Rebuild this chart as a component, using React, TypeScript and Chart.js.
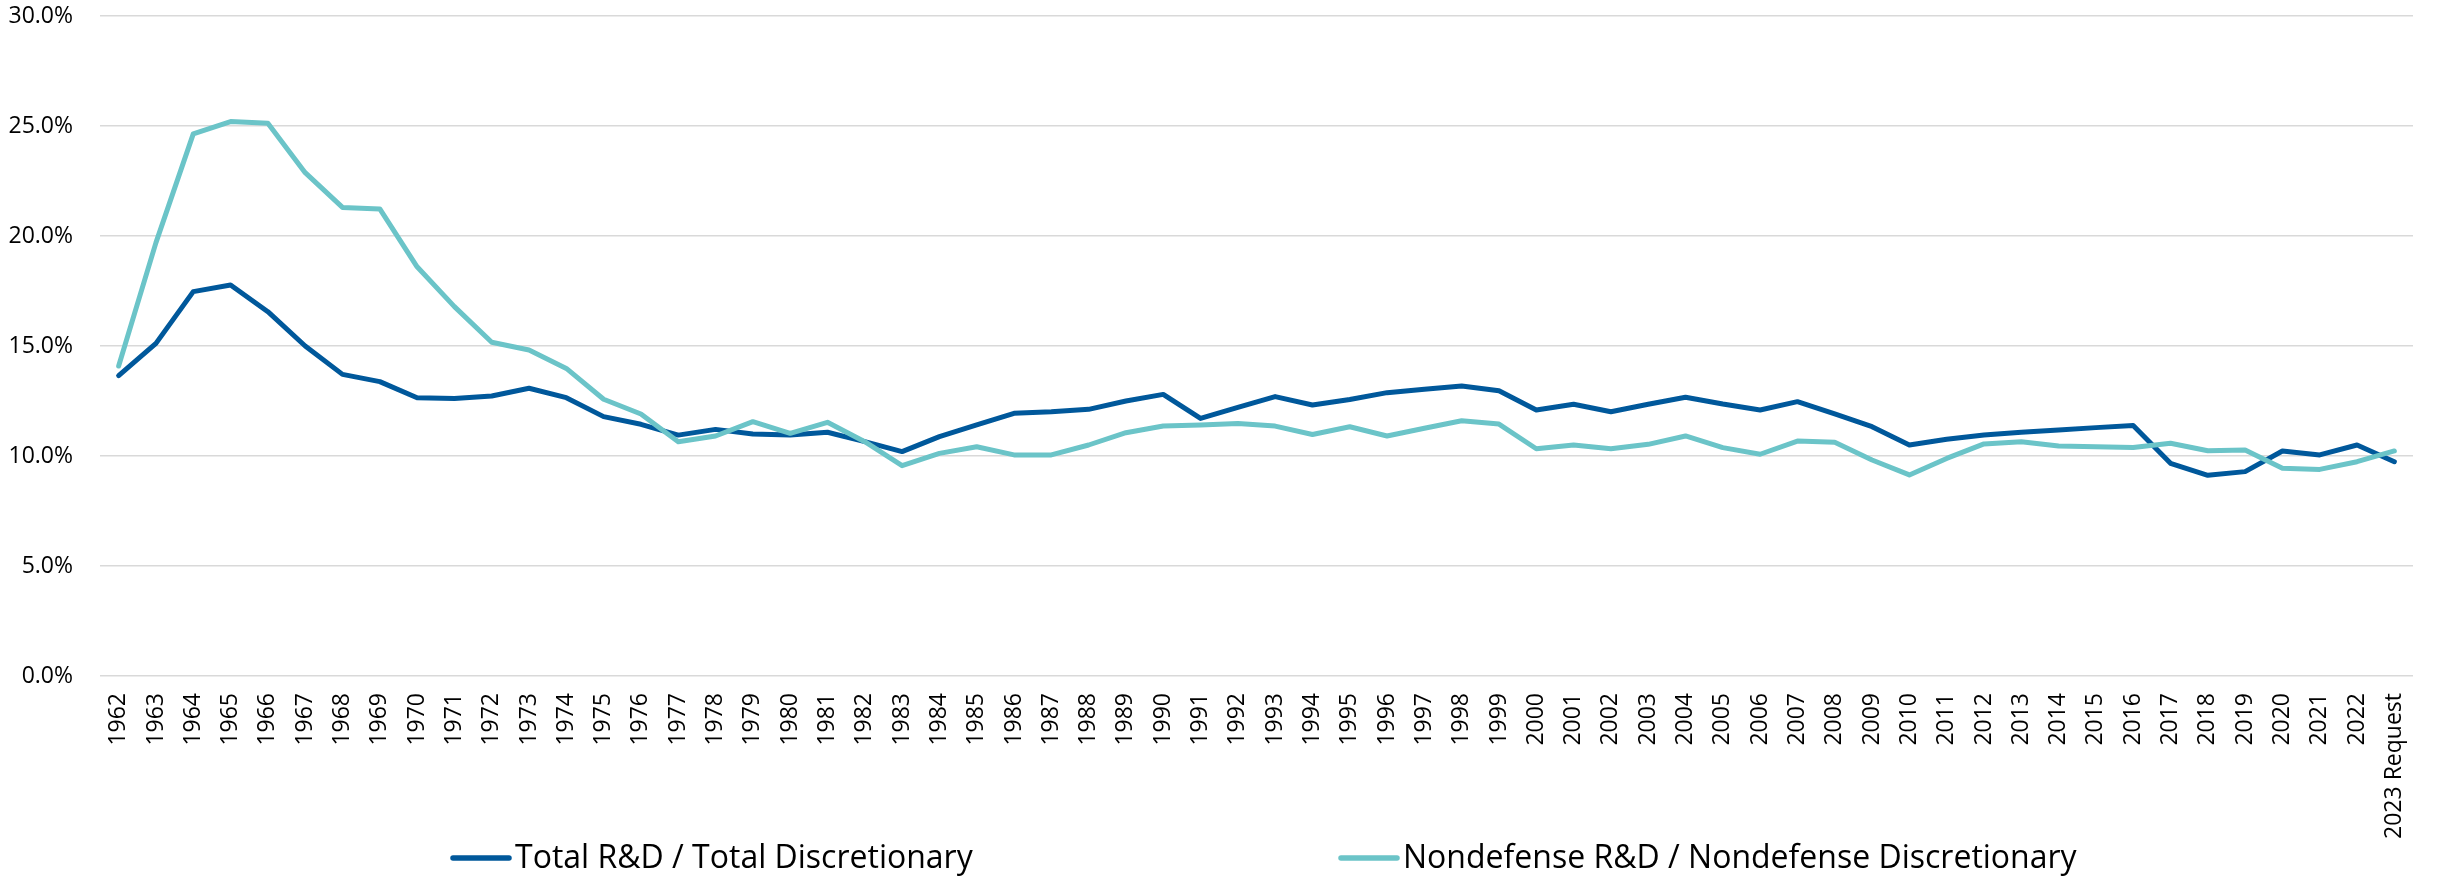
import React, { useEffect, useRef } from 'react';
import { Chart, registerables } from 'chart.js';

Chart.register(...registerables);

const categories: string[] = [
  '1962', '1963', '1964', '1965', '1966', '1967', '1968', '1969', '1970', '1971',
  '1972', '1973', '1974', '1975', '1976', '1977', '1978', '1979', '1980', '1981',
  '1982', '1983', '1984', '1985', '1986', '1987', '1988', '1989', '1990', '1991',
  '1992', '1993', '1994', '1995', '1996', '1997', '1998', '1999', '2000', '2001',
  '2002', '2003', '2004', '2005', '2006', '2007', '2008', '2009', '2010', '2011',
  '2012', '2013', '2014', '2015', '2016', '2017', '2018', '2019', '2020', '2021',
  '2022', '2023 Request',
];

const totalRD: number[] = [
  13.65, 15.12, 17.47, 17.77, 16.56, 15.0, 13.71, 13.38, 12.65, 12.61,
  12.73, 13.08, 12.65, 11.79, 11.44, 10.95, 11.21, 11.0, 10.95, 11.08,
  10.65, 10.2, 10.88, 11.41, 11.94, 12.01, 12.12, 12.5, 12.8, 11.71,
  12.21, 12.7, 12.32, 12.57, 12.88, 13.03, 13.18, 12.97, 12.09, 12.35,
  12.01, 12.35, 12.67, 12.36, 12.09, 12.47, 11.91, 11.33, 10.5, 10.76,
  10.95, 11.08, 11.18, 11.29, 11.39, 9.67, 9.12, 9.29, 10.23, 10.05,
  10.5, 9.74,
];

const nondefenseRD: number[] = [
  14.09, 19.7, 24.64, 25.2, 25.12, 22.88, 21.3, 21.23, 18.6, 16.79,
  15.17, 14.82, 13.98, 12.58, 11.91, 10.65, 10.91, 11.56, 11.03, 11.53,
  10.65, 9.56, 10.12, 10.42, 10.05, 10.05, 10.5, 11.06, 11.36, 11.41,
  11.48, 11.36, 10.98, 11.33, 10.91, 11.26, 11.6, 11.45, 10.33, 10.5,
  10.33, 10.53, 10.91, 10.38, 10.08, 10.68, 10.62, 9.82, 9.14, 9.89,
  10.55, 10.65, 10.45, 10.42, 10.39, 10.58, 10.24, 10.27, 9.44, 9.39,
  9.74, 10.23,
];

const seriesLabels: string[] = [
  'Total R&D / Total Discretionary',
  'Nondefense R&D / Nondefense Discretionary',
];

const DARK = '#00589B';
const LIGHT = '#6BC4C8';
const FONT = '"Open Sans", "Noto Sans", sans-serif';

const legendPlugin = {
  id: 'customLegend',
  afterDraw(chart: any) {
    const ctx = chart.ctx as CanvasRenderingContext2D;
    const items = [
      { label: seriesLabels[0], color: DARK, x: 450 },
      { label: seriesLabels[1], color: LIGHT, x: 1338 },
    ];
    const y = 858;
    ctx.save();
    ctx.font = `32px ${FONT}`;
    ctx.textBaseline = 'middle';
    ctx.textAlign = 'left';
    items.forEach((it) => {
      ctx.strokeStyle = it.color;
      ctx.lineWidth = 5.5;
      ctx.lineCap = 'round';
      ctx.beginPath();
      ctx.moveTo(it.x + 3, y);
      ctx.lineTo(it.x + 59, y);
      ctx.stroke();
      ctx.fillStyle = '#000000';
      ctx.fillText(it.label, it.x + 65, y + 1);
    });
    ctx.restore();
  },
};

export default function App() {
  const canvasRef = useRef<HTMLCanvasElement | null>(null);

  useEffect(() => {
    document.body.style.margin = '0';
    const canvas = canvasRef.current;
    if (!canvas) return;
    const chart = new Chart(canvas, {
      type: 'line',
      data: {
        labels: categories,
        datasets: [
          {
            label: seriesLabels[0],
            data: totalRD,
            borderColor: DARK,
            backgroundColor: DARK,
            borderWidth: 5,
            pointRadius: 0,
            tension: 0,
            borderCapStyle: 'round',
            borderJoinStyle: 'round',
            order: 1,
          },
          {
            label: seriesLabels[1],
            data: nondefenseRD,
            borderColor: LIGHT,
            backgroundColor: LIGHT,
            borderWidth: 5,
            pointRadius: 0,
            tension: 0,
            borderCapStyle: 'round',
            borderJoinStyle: 'round',
            order: 0,
          },
        ],
      },
      options: {
        responsive: false,
        animation: false,
        devicePixelRatio: 1,
        layout: { padding: { top: 16, right: 27, bottom: 0, left: 0 } },
        plugins: {
          legend: { display: false },
          tooltip: { enabled: false },
          title: { display: false },
        },
        scales: {
          x: {
            type: 'category',
            offset: true,
            grid: { display: false, drawTicks: false },
            border: { display: false },
            ticks: {
              autoSkip: false,
              minRotation: 90,
              maxRotation: 90,
              padding: 17,
              color: '#000000',
              font: { family: FONT, size: 23 },
            },
            afterFit(scale: any) {
              scale.height = 201;
            },
          },
          y: {
            min: 0,
            max: 30,
            grid: { color: '#D9D9D9', lineWidth: 1.5, drawTicks: false },
            border: { display: false },
            ticks: {
              stepSize: 5,
              padding: 27,
              color: '#000000',
              font: { family: FONT, size: 23 },
              callback: (v: any) => Number(v).toFixed(1) + '%',
            },
            afterFit(scale: any) {
              scale.width = 100;
              scale.paddingTop = 0;
              scale.paddingBottom = 0;
            },
          },
        },
      },
      plugins: [legendPlugin],
    });
    return () => chart.destroy();
  }, []);

  return (
    <div style={{ position: 'fixed', left: 0, top: 0, width: 2440, height: 877, background: '#ffffff' }}>
      <canvas ref={canvasRef} width={2440} height={877} style={{ display: 'block' }} />
    </div>
  );
}
